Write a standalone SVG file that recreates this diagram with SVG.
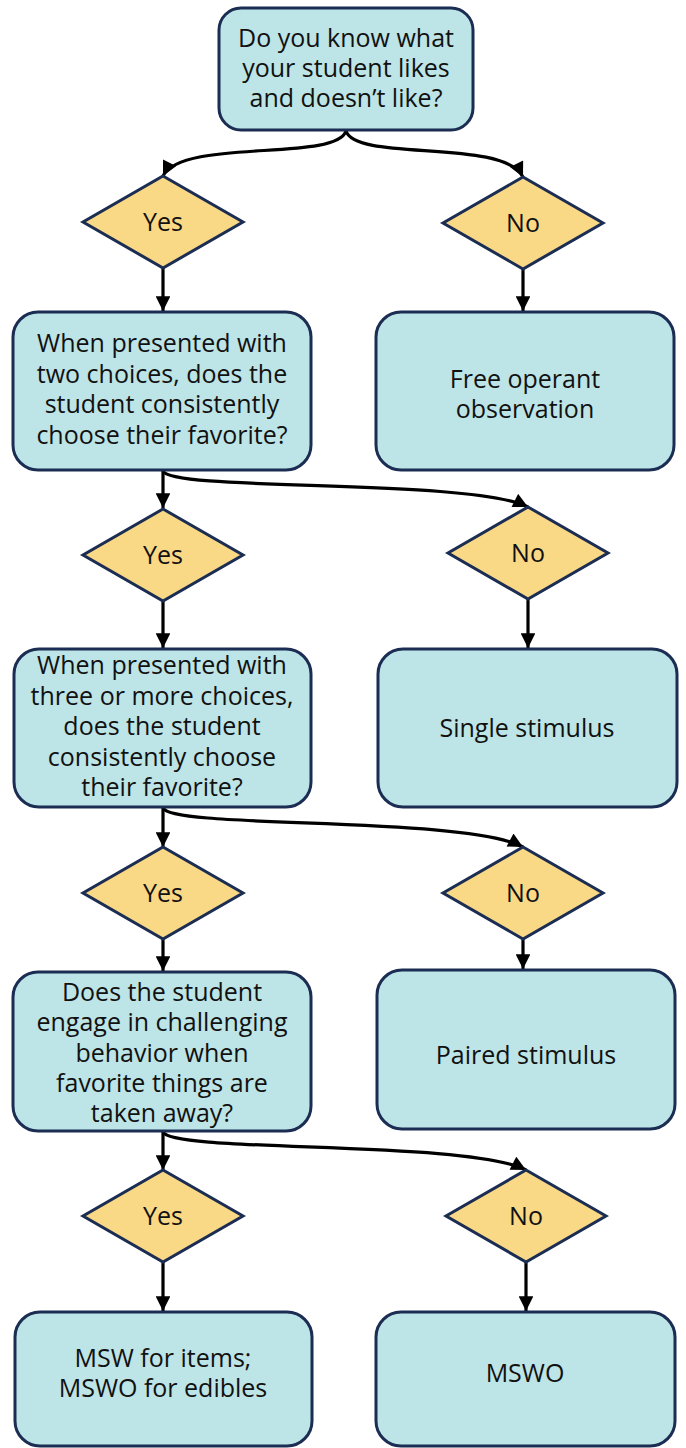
<svg xmlns="http://www.w3.org/2000/svg" width="686" height="1448" viewBox="0 0 686 1448">
<style>
.box{fill:#bde4e6;stroke:#1b2d52;stroke-width:3}
.dia{fill:#f9d886;stroke:#1b2d52;stroke-width:3}
text{font-family:"Open Sans","Noto Sans",sans-serif;font-size:25px;fill:#111;text-anchor:middle}
.c path{fill:none;stroke:#000;stroke-width:3.2;marker-end:url(#ah)}
</style>
<defs>
<marker id="ah" viewBox="0 0 10 10" refX="10" refY="5" markerWidth="5" markerHeight="4.6" orient="auto" markerUnits="strokeWidth">
<path d="M0,0 L10,5 L0,10 z" fill="#000"/>
</marker>
</defs>
<rect width="686" height="1448" fill="#fff"/>
<g class="c" id="connectors">
<path d="M346,131 C336,162 182,138 163,176"/>
<path d="M346,131 C356,162 504,138 523,177"/>
<path d="M163,268 L163,311"/>
<path d="M523,269 L523,311"/>
<path d="M163,471 L163,508"/>
<path d="M163,471 C172,492 470,478 528,507"/>
<path d="M163,601 L163,648"/>
<path d="M528,599 L528,648"/>
<path d="M163,808 L163,847"/>
<path d="M163,808 C172,829 465,816 523,847"/>
<path d="M163,939 L163,971"/>
<path d="M523,939 L523,969"/>
<path d="M163,1132 L163,1170"/>
<path d="M163,1132 C172,1153 468,1140 526,1170"/>
<path d="M163,1262 L163,1311"/>
<path d="M526,1262 L526,1311"/>
</g>
<g id="q1"><rect class="box" x="219" y="8" width="254" height="122" rx="22"/>
<text x="346" y="47">Do you know what</text><text x="346" y="77">your student likes</text><text x="346" y="107">and doesn’t like?</text></g>
<g id="yes1"><polygon class="dia" points="163,176 243,222 163,268 83,222"/><text x="163" y="231">Yes</text></g>
<g id="no1"><polygon class="dia" points="523,177 603,223 523,269 443,223"/><text x="523" y="232">No</text></g>
<g id="q2"><rect class="box" x="13" y="312" width="298" height="158" rx="25"/>
<text x="162" y="352">When presented with</text><text x="162" y="382.5">two choices, does the</text><text x="162" y="413">student consistently</text><text x="162" y="443.5">choose their favorite?</text></g>
<g id="free"><rect class="box" x="376" y="312" width="298" height="158" rx="25"/>
<text x="525" y="388">Free operant</text><text x="525" y="418">observation</text></g>
<g id="yes2"><polygon class="dia" points="163,509 243,555 163,601 83,555"/><text x="163" y="564">Yes</text></g>
<g id="no2"><polygon class="dia" points="528,507 608,553 528,599 448,553"/><text x="528" y="562">No</text></g>
<g id="q3"><rect class="box" x="14" y="649" width="297" height="158" rx="25"/>
<text x="162" y="674">When presented with</text><text x="162" y="704.5">three or more choices,</text><text x="162" y="735">does the student</text><text x="162" y="765.5">consistently choose</text><text x="162" y="796">their favorite?</text></g>
<g id="single"><rect class="box" x="378" y="649" width="299" height="158" rx="25"/>
<text x="527" y="737">Single stimulus</text></g>
<g id="yes3"><polygon class="dia" points="163,847 243,893 163,939 83,893"/><text x="163" y="902">Yes</text></g>
<g id="no3"><polygon class="dia" points="523,847 603,893 523,939 443,893"/><text x="523" y="902">No</text></g>
<g id="q4"><rect class="box" x="13" y="972" width="298" height="159" rx="25"/>
<text x="162" y="1001">Does the student</text><text x="162" y="1031">engage in challenging</text><text x="162" y="1062">behavior when</text><text x="162" y="1092">favorite things are</text><text x="162" y="1122">taken away?</text></g>
<g id="paired"><rect class="box" x="377" y="970" width="298" height="159" rx="25"/>
<text x="526" y="1064">Paired stimulus</text></g>
<g id="yes4"><polygon class="dia" points="163,1170 243,1216 163,1262 83,1216"/><text x="163" y="1225">Yes</text></g>
<g id="no4"><polygon class="dia" points="526,1170 606,1216 526,1262 446,1216"/><text x="526" y="1225">No</text></g>
<g id="msw"><rect class="box" x="15" y="1312" width="297" height="134" rx="25"/>
<text x="163" y="1367">MSW for items;</text><text x="163" y="1397">MSWO for edibles</text></g>
<g id="mswo"><rect class="box" x="376" y="1312" width="299" height="134" rx="25"/>
<text x="525" y="1382">MSWO</text></g>
</svg>
